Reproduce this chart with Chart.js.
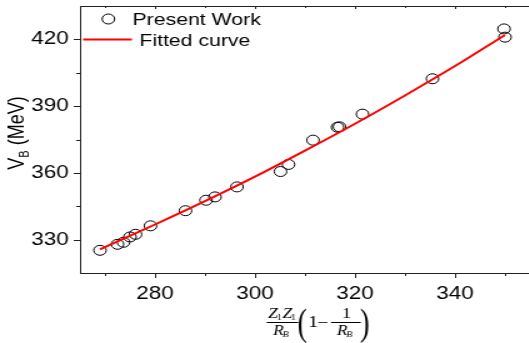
<!DOCTYPE html>
<html>
<head>
<meta charset="utf-8">
<script src="https://cdn.jsdelivr.net/npm/chart.js@4/dist/chart.umd.min.js"></script>
<style>
  html, body { margin: 0; padding: 0; background: #fff; overflow: hidden; }
  #wrap { width: 430px; height: 343px; transform: scaleX(1.25); transform-origin: 0 0; }
</style>
</head>
<body>
<div id="wrap"><canvas id="chart" width="430" height="343"></canvas></div>
<script>
// Data
const workX = [269.0, 272.5, 273.7, 275.0, 276.1, 279.1, 286.1, 290.2, 292.0, 296.4,
               305.1, 306.7, 311.6, 316.5, 316.9, 321.5, 335.5, 349.8, 350.0];
const workY = [325.2, 327.9, 328.8, 331.2, 332.4, 336.2, 343.0, 347.7, 349.2, 353.7,
               360.6, 363.8, 374.7, 380.5, 380.7, 386.4, 402.3, 424.7, 421.0];

const fitX = [269, 280, 290, 300, 310, 320, 330, 340, 350];
const fitY = [325.6, 336.8, 347.3, 358.3, 370.0, 382.1, 394.8, 408.0, 422.0];

const xTicks = [280, 300, 320, 340];
const xMinor = [270, 290, 310, 330, 350];
const yTicks = [330, 360, 390, 420];
const yMinor = [345, 375, 405];

const AXIS = '#222';
const SANS = '"Liberation Sans", Arial, sans-serif';
const SERIF = '"Liberation Serif", "Times New Roman", serif';

// Frame, ticks, legend and axis titles
const decor = {
    id: 'decor',
    afterDraw(chart) {
        const { ctx, chartArea: a, scales: { x, y } } = chart;
        ctx.save();
        ctx.strokeStyle = AXIS;
        ctx.lineWidth = 1;
        ctx.beginPath();
        ctx.moveTo(a.left, a.top + 0.5); ctx.lineTo(a.right, a.top + 0.5);
        ctx.moveTo(a.left + 0.5, a.top); ctx.lineTo(a.left + 0.5, a.bottom);
        ctx.moveTo(a.left, a.bottom + 0.5); ctx.lineTo(a.right, a.bottom + 0.5);
        xTicks.forEach(v => {
            const px = Math.round(x.getPixelForValue(v)) + 0.5;
            ctx.moveTo(px, a.bottom); ctx.lineTo(px, a.bottom + 5);
            ctx.moveTo(px, a.top); ctx.lineTo(px, a.top + 3);
        });
        xMinor.forEach(v => {
            const px = Math.round(x.getPixelForValue(v)) + 0.5;
            ctx.moveTo(px, a.bottom); ctx.lineTo(px, a.bottom + 3);
            ctx.moveTo(px, a.top); ctx.lineTo(px, a.top + 2);
        });
        yTicks.forEach(v => {
            const py = Math.round(y.getPixelForValue(v)) + 0.5;
            ctx.moveTo(a.left - 5, py); ctx.lineTo(a.left, py);
        });
        yMinor.forEach(v => {
            const py = Math.round(y.getPixelForValue(v)) + 0.5;
            ctx.moveTo(a.left - 3, py); ctx.lineTo(a.left, py);
        });
        ctx.stroke();

        // legend
        const ds = chart.data.datasets;
        ctx.fillStyle = '#000';
        ctx.font = '17px ' + SANS;
        ctx.textBaseline = 'alphabetic';
        ctx.beginPath();
        ctx.arc(86.7, 19, 5, 0, Math.PI * 2);
        ctx.strokeStyle = '#000';
        ctx.stroke();
        ctx.fillText(ds[1].label, 106, 25);
        ctx.beginPath();
        ctx.moveTo(66.5, 39.5); ctx.lineTo(105.5, 39.5);
        ctx.strokeStyle = '#ff0000';
        ctx.lineWidth = 2;
        ctx.stroke();
        ctx.fillText(ds[0].label, 111.5, 46);

        // y title
        ctx.save();
        ctx.translate(18.5, 133);
        ctx.rotate(-Math.PI / 2);
        ctx.font = '18px ' + SANS;
        const wV = ctx.measureText('V').width;
        ctx.font = '11px ' + SANS;
        const wB = ctx.measureText('B').width;
        ctx.font = '18px ' + SANS;
        const wRest = ctx.measureText(' (MeV)').width;
        let tx = -(wV + wB + wRest) / 2;
        ctx.fillText('V', tx, 0); tx += wV;
        ctx.font = '11px ' + SANS;
        ctx.fillText('B', tx, 4); tx += wB;
        ctx.font = '18px ' + SANS;
        ctx.fillText(' (MeV)', tx, 0);
        ctx.restore();

        // x title: Z1Z1/RB (1 - 1/RB)
        ctx.fillStyle = '#000';
        ctx.strokeStyle = '#000';
        ctx.lineWidth = 1;
        let zx = 214.6;
        for (let i = 0; i < 2; i++) {
            ctx.font = 'italic 14px ' + SERIF;
            ctx.fillText('Z', zx, 317.7); zx += ctx.measureText('Z').width;
            ctx.font = '8px ' + SERIF;
            ctx.fillText('1', zx - 1, 319.5); zx += ctx.measureText('1').width - 0.5;
        }
        const rb = (rx) => {
            ctx.font = 'italic 14px ' + SERIF;
            ctx.fillText('R', rx, 334.5);
            const w = ctx.measureText('R').width;
            ctx.font = 'italic 8px ' + SERIF;
            ctx.fillText('B', rx + w - 1, 336.5);
        };
        rb(218.4);
        rb(269.4);
        ctx.beginPath();
        ctx.moveTo(213.4, 322.5); ctx.lineTo(238.6, 322.5);
        ctx.moveTo(264.8, 322.5); ctx.lineTo(288.6, 322.5);
        ctx.stroke();
        ctx.font = '16px ' + SERIF;
        ctx.fillText('1', 246.4, 327.3);
        ctx.fillText('\u2212', 253.8, 327.8);
        ctx.font = '15px ' + SERIF;
        ctx.fillText('1', 273.6, 318.3);
        const paren = (ch, px) => {
            ctx.save();
            ctx.translate(px, 334.5);
            ctx.scale(0.6, 1);
            ctx.font = '38px ' + SERIF;
            ctx.fillText(ch, 0, 0);
            ctx.restore();
        };
        paren('(', 238);
        paren(')', 288);
        ctx.restore();
    }
};

new Chart(document.getElementById('chart'), {
    type: 'scatter',
    data: {
        datasets: [
            {
                label: 'Fitted curve',
                data: fitX.map((v, i) => ({ x: v, y: fitY[i] })),
                showLine: true,
                borderColor: '#ff0000',
                borderWidth: 2,
                pointRadius: 0,
                tension: 0.3,
                order: 0
            },
            {
                label: 'Present Work',
                data: workX.map((v, i) => ({ x: v, y: workY[i] })),
                pointStyle: 'circle',
                pointRadius: 5,
                borderColor: '#000',
                borderWidth: 1,
                backgroundColor: 'rgba(0,0,0,0)',
                order: 1
            }
        ]
    },
    options: {
        responsive: false,
        animation: false,
        layout: { padding: { top: 6, right: 0, left: 0, bottom: 0 } },
        plugins: { legend: { display: false }, tooltip: { enabled: false } },
        scales: {
            x: {
                type: 'linear',
                min: 265,
                max: 355,
                grid: { display: false, drawTicks: false },
                border: { display: false },
                afterBuildTicks: s => { s.ticks = xTicks.map(v => ({ value: v })); },
                afterFit: s => { s.height = 70; s.paddingLeft = 0; s.paddingRight = 0; },
                ticks: { color: '#000', padding: 10, maxRotation: 0, font: { family: SANS, size: 18 } }
            },
            y: {
                type: 'linear',
                min: 315,
                max: 435,
                grid: { display: false, drawTicks: false },
                border: { display: false },
                afterBuildTicks: s => { s.ticks = yTicks.map(v => ({ value: v })); },
                afterFit: s => { s.width = 64; s.paddingTop = 0; s.paddingBottom = 0; },
                ticks: { color: '#000', padding: 9, font: { family: SANS, size: 18 } }
            }
        }
    },
    plugins: [decor]
});
</script>
</body>
</html>
